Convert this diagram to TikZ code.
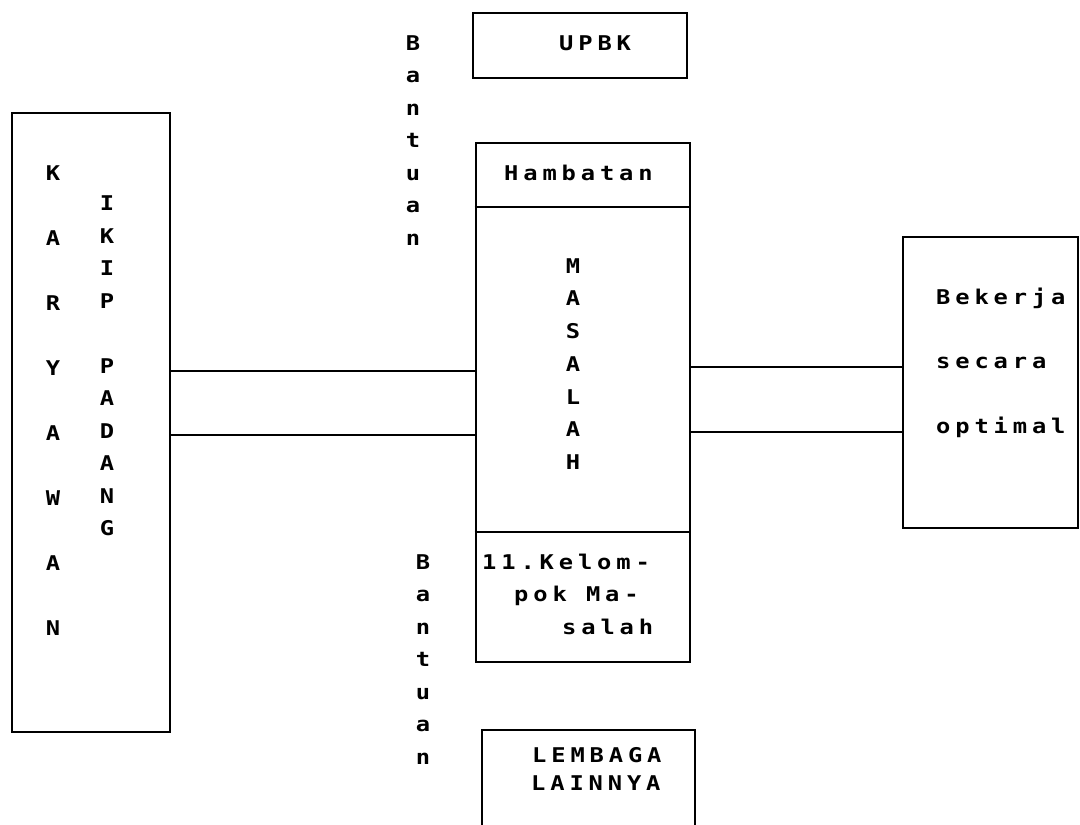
\documentclass[tikz,border=0pt]{standalone}
\usepackage{fontspec}
\newfontfamily\dmsp[LetterSpace=24,FakeStretch=1.17]{DejaVu Sans Mono Bold}
\newfontfamily\dmv[FakeStretch=1.17]{DejaVu Sans Mono Bold}
\begin{document}
\begin{tikzpicture}[x=1pt,y=-1pt,
  box/.style={draw, line width=2.6pt, inner sep=0pt},
  conn/.style={line width=1.6pt},
  htxt/.style={font=\dmsp\fontsize{20.3}{28}\selectfont, inner sep=0pt, anchor=base west},
  vtxt/.style={font=\dmv\fontsize{20.3}{32.5}\selectfont, inner sep=0pt, anchor=north, align=center},
  vwide/.style={font=\dmv\fontsize{20.3}{65}\selectfont, inner sep=0pt, anchor=north, align=center},
  vmas/.style={font=\dmv\fontsize{20.3}{32.7}\selectfont, inner sep=0pt, anchor=north, align=center}
]
\useasboundingbox (0,0) rectangle (1080,825);
\clip (0,0) rectangle (1080,825);
% boxes
\node[box, minimum width=158pt, minimum height=619pt] (kary) at (91,422.5) {};
\node[box, minimum width=214pt, minimum height=65pt] (upbk) at (580,45.5) {};
\node[box, minimum width=214pt, minimum height=519pt] (mid) at (583,402.5) {};
\node[box, minimum width=213pt, minimum height=110pt] (lemb) at (588.5,785) {};
\node[box, minimum width=175pt, minimum height=291pt] (bek) at (990.5,382.5) {};
% helper coordinates
\coordinate (y1) at (0,371);
\coordinate (y2) at (0,435);
\coordinate (y3) at (0,367);
\coordinate (y4) at (0,432);
\coordinate (d1) at (0,207);
\coordinate (d2) at (0,532);
% connectors
\draw[conn] (kary.east |- y1) -- (mid.west |- y1);
\draw[conn] (kary.east |- y2) -- (mid.west |- y2);
\draw[conn] (mid.east |- y3) -- (bek.west |- y3);
\draw[conn] (mid.east |- y4) -- (bek.west |- y4);
% dividers
\draw[conn] (mid.west |- d1) -- (mid.east |- d1);
\draw[conn] (mid.west |- d2) -- (mid.east |- d2);
% horizontal texts
\node[htxt] (tupbk) at (559,50) {UPBK};
\node[htxt] (thamb) at (504,180) {Hambatan};
\node[htxt] (tkel1) at (482,569) {11.Kelom-};
\node[htxt] (tkel2) at (514,601.5) {pok Ma-};
\node[htxt] (tkel3) at (562,634) {salah};
\node[htxt] (tlem1) at (532,762) {LEMBAGA};
\node[htxt] (tlem2) at (531,790) {LAINNYA};
\node[htxt] (tbek1) at (936,304) {Bekerja};
\node[htxt] (tbek2) at (936,368.5) {secara};
\node[htxt] (tbek3) at (936,433) {optimal};
% vertical texts
\node[vwide] (tkar) at (53,165.2) {K\\A\\R\\Y\\A\\W\\A\\N};
\node[vtxt] (tikip) at (107,195.7) {I\\K\\I\\P\\[32.5pt]P\\A\\D\\A\\N\\G};
\node[vmas] (tmas) at (573,258.2) {M\\A\\S\\A\\L\\A\\H};
\node[vtxt] (tban1) at (413,35.2) {B\\a\\n\\t\\u\\a\\n};
\node[vtxt] (tban2) at (423,554.2) {B\\a\\n\\t\\u\\a\\n};
\end{tikzpicture}
\end{document}
